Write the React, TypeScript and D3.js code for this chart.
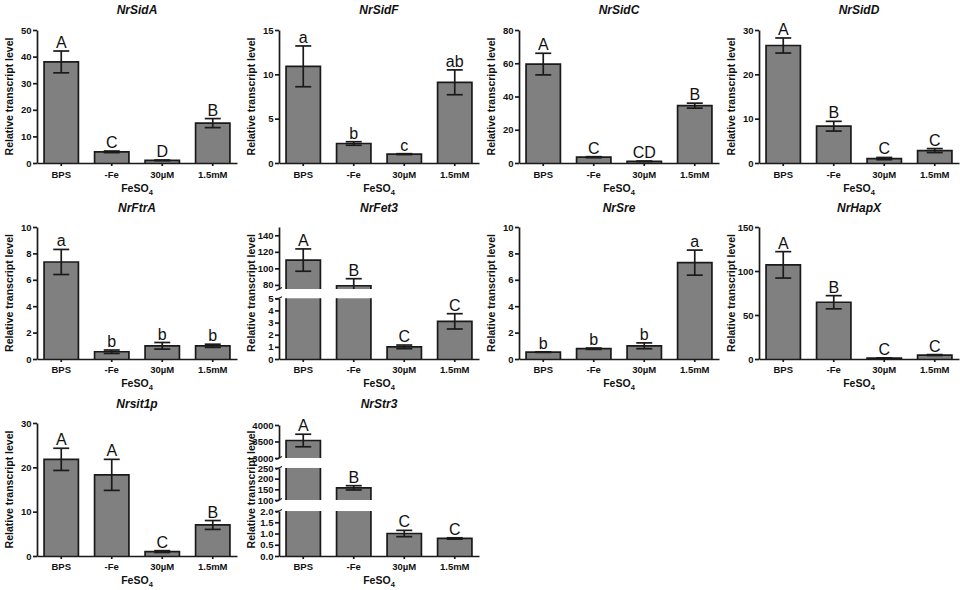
import * as React from 'react'
import { useEffect, useRef } from 'react'
import * as d3 from 'd3'

// x categories, shared by every panel
const conditions = ['BPS', '-Fe', '30µM', '1.5mM']

const genes = ['NrSidA', 'NrSidF', 'NrSidC', 'NrSidD', 'NrFtrA', 'NrFet3', 'NrSre', 'NrHapX', 'Nrsit1p', 'NrStr3']

// means / error and significance letters
const sidAMean = [38, 4.2, 1.0, 15]
const sidAErr = [4.1, 0.3, 0.1, 1.7]
const sidALetters = ['A', 'C', 'D', 'B']

const sidFMean = [10.9, 2.2, 1.0, 9.1]
const sidFErr = [2.3, 0.2, 0.05, 1.4]
const sidFLetters = ['a', 'b', 'c', 'ab']

const sidCMean = [59.5, 3.5, 1.0, 34.5]
const sidCErr = [6.5, 0.3, 0.1, 1.5]
const sidCLetters = ['A', 'C', 'CD', 'B']

const sidDMean = [26.5, 8.3, 1.0, 2.8]
const sidDErr = [1.7, 1.1, 0.25, 0.45]
const sidDLetters = ['A', 'B', 'C', 'C']

const ftrAMean = [7.35, 0.55, 1.0, 1.0]
const ftrAErr = [0.95, 0.13, 0.25, 0.12]
const ftrALetters = ['a', 'b', 'b', 'b']

const fet3Mean = [110, 79, 1.0, 3.1]
const fet3Err = [13.5, 8.5, 0.15, 0.63]
const fet3Letters = ['A', 'B', 'C', 'C']

const sreMean = [0.52, 0.78, 1.0, 7.3]
const sreErr = [0.02, 0.05, 0.22, 0.95]
const sreLetters = ['b', 'b', 'b', 'a']

const hapXMean = [107, 64.5, 1.0, 4.5]
const hapXErr = [15, 7.5, 0.3, 0.5]
const hapXLetters = ['A', 'B', 'C', 'C']

const sit1pMean = [21.8, 18.3, 1.0, 7.0]
const sit1pErr = [2.5, 3.5, 0.2, 1.0]
const sit1pLetters = ['A', 'A', 'C', 'B']

const str3Mean = [3530, 157, 1.0, 0.78]
const str3Err = [190, 10, 0.14, 0.03]
const str3Letters = ['A', 'B', 'C', 'C']

// y tick labels
const ticks50 = [0, 10, 20, 30, 40, 50]
const ticks15 = [0, 5, 10, 15]
const ticks80 = [0, 20, 40, 60, 80]
const ticks30 = [0, 10, 20, 30]
const ticks10 = [0, 2, 4, 6, 8, 10]
const ticks150 = [0, 50, 100, 150]
const fet3LowTicks = [0, 1, 2, 3, 4, 5]
const fet3HighTicks = [80, 100, 120, 140]
const str3LowTicks = [0, 0.5, 1.0, 1.5, 2.0]
const str3MidTicks = [100, 150, 200, 250]
const str3HighTicks = [3000, 3500, 4000]

interface Segment {
  domain: [number, number]
  span: [number, number] // fraction of plot height
  ticks: number[]
}

interface Panel {
  title: string
  row: number
  col: number
  mean: number[]
  err: number[]
  letters: string[]
  segments: Segment[]
  fmt: (d: number) => string
}

const intFmt = d3.format('d')
const oneFmt = d3.format('.1f')

const single = (max: number, ticks: number[]): Segment[] => [{ domain: [0, max], span: [0, 1], ticks }]

const panels: Panel[] = [
  { title: genes[0], row: 0, col: 0, mean: sidAMean, err: sidAErr, letters: sidALetters, segments: single(50, ticks50), fmt: intFmt },
  { title: genes[1], row: 0, col: 1, mean: sidFMean, err: sidFErr, letters: sidFLetters, segments: single(15, ticks15), fmt: intFmt },
  { title: genes[2], row: 0, col: 2, mean: sidCMean, err: sidCErr, letters: sidCLetters, segments: single(80, ticks80), fmt: intFmt },
  { title: genes[3], row: 0, col: 3, mean: sidDMean, err: sidDErr, letters: sidDLetters, segments: single(30, ticks30), fmt: intFmt },
  { title: genes[4], row: 1, col: 0, mean: ftrAMean, err: ftrAErr, letters: ftrALetters, segments: single(10, ticks10), fmt: intFmt },
  {
    title: genes[5], row: 1, col: 1, mean: fet3Mean, err: fet3Err, letters: fet3Letters, fmt: intFmt,
    segments: [
      { domain: [0, 5], span: [0, 0.46], ticks: fet3LowTicks },
      { domain: [75, 150], span: [0.53, 1], ticks: fet3HighTicks },
    ],
  },
  { title: genes[6], row: 1, col: 2, mean: sreMean, err: sreErr, letters: sreLetters, segments: single(10, ticks10), fmt: intFmt },
  { title: genes[7], row: 1, col: 3, mean: hapXMean, err: hapXErr, letters: hapXLetters, segments: single(150, ticks150), fmt: intFmt },
  { title: genes[8], row: 2, col: 0, mean: sit1pMean, err: sit1pErr, letters: sit1pLetters, segments: single(30, ticks30), fmt: intFmt },
  {
    title: genes[9], row: 2, col: 1, mean: str3Mean, err: str3Err, letters: str3Letters,
    fmt: d => (d < 10 ? oneFmt(d) : intFmt(d)),
    segments: [
      { domain: [0, 2], span: [0, 0.338], ticks: str3LowTicks },
      { domain: [100, 250], span: [0.421, 0.662], ticks: str3MidTicks },
      { domain: [3000, 4000], span: [0.737, 0.985], ticks: str3HighTicks },
    ],
  },
]

// layout of the grid
const colX = [37, 279, 519, 759]
const rowTop = [30, 227, 423]
const rowZero = [163, 359, 556]
const titleY = [14, 212, 408]
const tickLabelY = [178, 373, 570]
const xTitleY = [192, 387, 584]
const axisLength = 200

const FONT = "'Liberation Sans', Arial, Helvetica, sans-serif"
const INK = '#1a1a1a'
const BAR = '#808080'
const LW = 1.7

export default function App() {
  const svgRef = useRef<SVGSVGElement>(null)

  useEffect(() => {
    if (!svgRef.current) return
    const svg = d3.select(svgRef.current)
    svg.selectAll('*').remove()

    panels.forEach(p => {
      const ax = colX[p.col]
      const top = rowTop[p.row]
      const zero = rowZero[p.row]
      const H = zero - top
      const g = svg.append('g').attr('font-family', FONT)

      const x = d3.scaleBand()
        .domain(conditions)
        .range([ax, ax + axisLength])
        .paddingInner(0.32)
        .paddingOuter(0.14)
      const bw = x.bandwidth()

      const scales = p.segments.map(s =>
        d3.scaleLinear().domain(s.domain).range([zero - s.span[0] * H, zero - s.span[1] * H])
      )

      const segIndex = (v: number) => {
        for (let k = 0; k < p.segments.length; k++) {
          if (v <= p.segments[k].domain[1]) return k
        }
        return p.segments.length - 1
      }

      // Bars (cut across axis breaks)
      p.mean.forEach((v, i) => {
        const bx = x(conditions[i])!
        p.segments.forEach((s, k) => {
          if (v <= s.domain[0]) return
          const sc = scales[k]
          const yLow = sc(s.domain[0])
          const yHigh = sc(Math.min(v, s.domain[1]))
          g.append('rect')
            .attr('x', bx)
            .attr('y', yHigh)
            .attr('width', bw)
            .attr('height', yLow - yHigh)
            .attr('fill', BAR)
          const closed = v <= s.domain[1]
          const d = closed
            ? `M${bx},${yLow}V${yHigh}H${bx + bw}V${yLow}`
            : `M${bx},${yLow}V${yHigh}M${bx + bw},${yHigh}V${yLow}`
          g.append('path')
            .attr('d', d)
            .attr('fill', 'none')
            .attr('stroke', INK)
            .attr('stroke-width', LW)
        })
      })

      // Error bars and letters
      p.mean.forEach((v, i) => {
        const cx = x(conditions[i])! + bw / 2
        const k = segIndex(v)
        const s = p.segments[k]
        const sc = scales[k]
        const hi = v + p.err[i]
        const lo = Math.max(v - p.err[i], s.domain[0])
        const cap = 8
        g.append('line')
          .attr('x1', cx).attr('x2', cx)
          .attr('y1', sc(lo)).attr('y2', sc(hi))
          .attr('stroke', INK).attr('stroke-width', LW)
        g.append('line')
          .attr('x1', cx - cap).attr('x2', cx + cap)
          .attr('y1', sc(hi)).attr('y2', sc(hi))
          .attr('stroke', INK).attr('stroke-width', LW)
        if (v - p.err[i] >= s.domain[0]) {
          g.append('line')
            .attr('x1', cx - cap).attr('x2', cx + cap)
            .attr('y1', sc(lo)).attr('y2', sc(lo))
            .attr('stroke', INK).attr('stroke-width', LW)
        }
        g.append('text')
          .attr('x', cx)
          .attr('y', sc(hi) - 3)
          .attr('text-anchor', 'middle')
          .attr('font-size', 16)
          .attr('fill', '#111')
          .text(p.letters[i])
      })

      // Y axis, one piece per segment
      p.segments.forEach((s, k) => {
        const yAxis = d3.axisLeft(scales[k])
          .tickValues(s.ticks)
          .tickSize(4)
          .tickSizeOuter(0)
          .tickPadding(1.5)
          .tickFormat(p.fmt as any)
        const ag = g.append('g')
          .attr('transform', `translate(${ax}, 0)`)
          .call(yAxis as any)
        ag.select('.domain').attr('stroke', INK).attr('stroke-width', LW)
        ag.selectAll('.tick line').attr('stroke', INK).attr('stroke-width', LW)
        ag.selectAll('.tick text')
          .attr('font-family', FONT)
          .attr('font-size', 9.5)
          .attr('font-weight', 'bold')
          .attr('fill', '#111')

        // break marks
        if (p.segments.length > 1) {
          const ends: number[] = []
          if (k > 0) ends.push(scales[k](s.domain[0]))
          if (k < p.segments.length - 1) ends.push(scales[k](s.domain[1]))
          ends.forEach(yy => {
            g.append('line')
              .attr('x1', ax - 3).attr('x2', ax + 3)
              .attr('y1', yy + 1.5).attr('y2', yy - 1.5)
              .attr('stroke', INK).attr('stroke-width', 1.2)
          })
        }
      })

      // X axis
      const xAxis = d3.axisBottom(x).tickSize(3).tickSizeOuter(0).tickFormat(() => '')
      const xg = g.append('g')
        .attr('transform', `translate(0, ${zero})`)
        .call(xAxis as any)
      xg.select('.domain').attr('stroke', INK).attr('stroke-width', LW)
      xg.selectAll('.tick line').attr('stroke', INK).attr('stroke-width', LW)

      conditions.forEach(c => {
        g.append('text')
          .attr('x', x(c)! + bw / 2)
          .attr('y', tickLabelY[p.row])
          .attr('text-anchor', 'middle')
          .attr('font-size', 9.5)
          .attr('font-weight', 'bold')
          .attr('fill', '#111')
          .text(c)
      })

      // FeSO4 axis title
      const xt = g.append('text')
        .attr('x', ax + axisLength / 2)
        .attr('y', xTitleY[p.row])
        .attr('text-anchor', 'middle')
        .attr('font-size', 10.5)
        .attr('font-weight', 'bold')
        .attr('fill', '#111')
      xt.append('tspan').text('FeSO')
      xt.append('tspan').attr('font-size', 7.5).attr('dy', 3).text('4')

      // Y axis title
      g.append('text')
        .attr('transform', `translate(${ax - 28}, ${(top + zero) / 2}) rotate(-90)`)
        .attr('text-anchor', 'middle')
        .attr('dominant-baseline', 'central')
        .attr('font-size', 10.5)
        .attr('font-weight', 'bold')
        .attr('fill', '#111')
        .text('Relative transcript level')

      // Panel title
      g.append('text')
        .attr('x', ax + axisLength / 2)
        .attr('y', titleY[p.row])
        .attr('text-anchor', 'middle')
        .attr('font-size', 12)
        .attr('font-weight', 'bold')
        .attr('font-style', 'italic')
        .attr('fill', '#111')
        .text(p.title)
    })
  }, [])

  return (
    <svg
      ref={svgRef}
      width={964}
      height={590}
      style={{ position: 'absolute', left: 0, top: 0, background: '#fff' }}
    />
  )
}
